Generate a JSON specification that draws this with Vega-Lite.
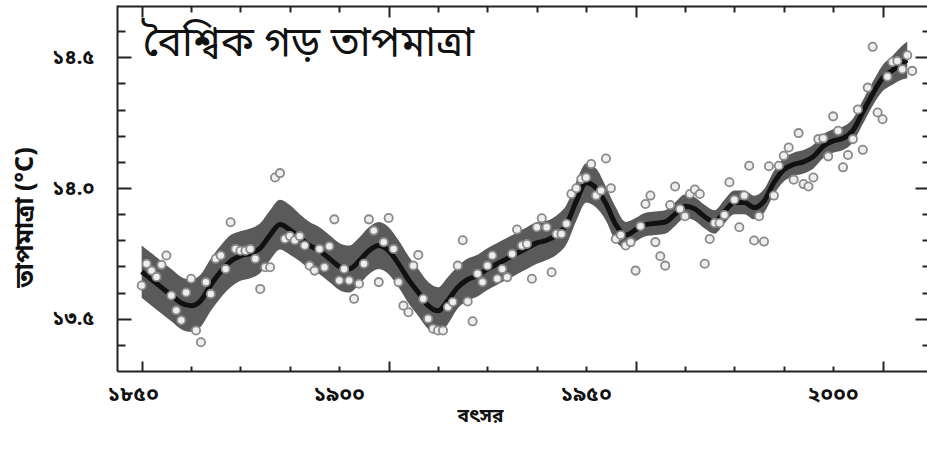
{
  "$schema": "https://vega.github.io/schema/vega-lite/v6.json",
  "width": 810,
  "height": 366,
  "autosize": "none",
  "padding": {"left": 117, "top": 5, "right": 0, "bottom": 87},
  "background": "white",
  "config": {
    "view": {"stroke": null},
    "font": "Noto Sans Bengali, Noto Sans, sans-serif",
    "axis": {"grid": false, "tickColor": "#222", "tickWidth": 2, "domainColor": "#222", "domainWidth": 2, "labelFont": "Noto Sans Bengali, Noto Sans, sans-serif", "titleFont": "Noto Sans Bengali, Noto Sans, sans-serif", "labelColor": "#111", "titleColor": "#111"}
  },
  "datasets": {
    "smooth": [
      {"year": 1850, "smooth": 13.68, "lo": 13.58, "hi": 13.78},
      {"year": 1852, "smooth": 13.65, "lo": 13.55, "hi": 13.75},
      {"year": 1854, "smooth": 13.62, "lo": 13.52, "hi": 13.72},
      {"year": 1856, "smooth": 13.59, "lo": 13.49, "hi": 13.69},
      {"year": 1858, "smooth": 13.56, "lo": 13.46, "hi": 13.66},
      {"year": 1860, "smooth": 13.55, "lo": 13.45, "hi": 13.65},
      {"year": 1862, "smooth": 13.57, "lo": 13.47, "hi": 13.67},
      {"year": 1864, "smooth": 13.63, "lo": 13.53, "hi": 13.73},
      {"year": 1866, "smooth": 13.68, "lo": 13.58, "hi": 13.78},
      {"year": 1868, "smooth": 13.72, "lo": 13.62, "hi": 13.82},
      {"year": 1870, "smooth": 13.74, "lo": 13.645, "hi": 13.835},
      {"year": 1872, "smooth": 13.75, "lo": 13.655, "hi": 13.845},
      {"year": 1874, "smooth": 13.77, "lo": 13.675, "hi": 13.865},
      {"year": 1876, "smooth": 13.82, "lo": 13.725, "hi": 13.915},
      {"year": 1878, "smooth": 13.86, "lo": 13.765, "hi": 13.955},
      {"year": 1880, "smooth": 13.84, "lo": 13.745, "hi": 13.935},
      {"year": 1882, "smooth": 13.81, "lo": 13.72, "hi": 13.90},
      {"year": 1884, "smooth": 13.78, "lo": 13.69, "hi": 13.87},
      {"year": 1886, "smooth": 13.76, "lo": 13.67, "hi": 13.85},
      {"year": 1888, "smooth": 13.73, "lo": 13.64, "hi": 13.82},
      {"year": 1890, "smooth": 13.70, "lo": 13.61, "hi": 13.79},
      {"year": 1892, "smooth": 13.69, "lo": 13.60, "hi": 13.78},
      {"year": 1894, "smooth": 13.72, "lo": 13.63, "hi": 13.81},
      {"year": 1896, "smooth": 13.76, "lo": 13.67, "hi": 13.85},
      {"year": 1898, "smooth": 13.78, "lo": 13.69, "hi": 13.87},
      {"year": 1900, "smooth": 13.76, "lo": 13.67, "hi": 13.85},
      {"year": 1902, "smooth": 13.71, "lo": 13.62, "hi": 13.80},
      {"year": 1904, "smooth": 13.65, "lo": 13.56, "hi": 13.74},
      {"year": 1906, "smooth": 13.60, "lo": 13.51, "hi": 13.69},
      {"year": 1908, "smooth": 13.55, "lo": 13.46, "hi": 13.64},
      {"year": 1910, "smooth": 13.53, "lo": 13.44, "hi": 13.62},
      {"year": 1912, "smooth": 13.57, "lo": 13.48, "hi": 13.66},
      {"year": 1914, "smooth": 13.62, "lo": 13.54, "hi": 13.70},
      {"year": 1916, "smooth": 13.65, "lo": 13.57, "hi": 13.73},
      {"year": 1918, "smooth": 13.665, "lo": 13.585, "hi": 13.745},
      {"year": 1920, "smooth": 13.69, "lo": 13.61, "hi": 13.77},
      {"year": 1922, "smooth": 13.71, "lo": 13.63, "hi": 13.79},
      {"year": 1924, "smooth": 13.73, "lo": 13.65, "hi": 13.81},
      {"year": 1926, "smooth": 13.75, "lo": 13.67, "hi": 13.83},
      {"year": 1928, "smooth": 13.77, "lo": 13.69, "hi": 13.85},
      {"year": 1930, "smooth": 13.79, "lo": 13.71, "hi": 13.87},
      {"year": 1932, "smooth": 13.80, "lo": 13.725, "hi": 13.875},
      {"year": 1934, "smooth": 13.82, "lo": 13.745, "hi": 13.895},
      {"year": 1936, "smooth": 13.86, "lo": 13.785, "hi": 13.935},
      {"year": 1938, "smooth": 13.95, "lo": 13.875, "hi": 14.025},
      {"year": 1940, "smooth": 14.02, "lo": 13.945, "hi": 14.095},
      {"year": 1942, "smooth": 14.00, "lo": 13.925, "hi": 14.075},
      {"year": 1944, "smooth": 13.94, "lo": 13.875, "hi": 14.005},
      {"year": 1946, "smooth": 13.86, "lo": 13.795, "hi": 13.925},
      {"year": 1948, "smooth": 13.82, "lo": 13.77, "hi": 13.87},
      {"year": 1950, "smooth": 13.84, "lo": 13.795, "hi": 13.885},
      {"year": 1952, "smooth": 13.86, "lo": 13.815, "hi": 13.905},
      {"year": 1954, "smooth": 13.865, "lo": 13.82, "hi": 13.91},
      {"year": 1956, "smooth": 13.87, "lo": 13.825, "hi": 13.915},
      {"year": 1958, "smooth": 13.90, "lo": 13.855, "hi": 13.945},
      {"year": 1960, "smooth": 13.93, "lo": 13.885, "hi": 13.975},
      {"year": 1962, "smooth": 13.92, "lo": 13.875, "hi": 13.965},
      {"year": 1964, "smooth": 13.89, "lo": 13.845, "hi": 13.935},
      {"year": 1966, "smooth": 13.87, "lo": 13.825, "hi": 13.915},
      {"year": 1968, "smooth": 13.91, "lo": 13.865, "hi": 13.955},
      {"year": 1970, "smooth": 13.945, "lo": 13.90, "hi": 13.99},
      {"year": 1972, "smooth": 13.945, "lo": 13.90, "hi": 13.99},
      {"year": 1974, "smooth": 13.925, "lo": 13.88, "hi": 13.97},
      {"year": 1976, "smooth": 13.95, "lo": 13.905, "hi": 13.995},
      {"year": 1978, "smooth": 14.02, "lo": 13.975, "hi": 14.065},
      {"year": 1980, "smooth": 14.07, "lo": 14.025, "hi": 14.115},
      {"year": 1982, "smooth": 14.09, "lo": 14.045, "hi": 14.135},
      {"year": 1984, "smooth": 14.10, "lo": 14.055, "hi": 14.145},
      {"year": 1986, "smooth": 14.12, "lo": 14.075, "hi": 14.165},
      {"year": 1988, "smooth": 14.16, "lo": 14.115, "hi": 14.205},
      {"year": 1990, "smooth": 14.18, "lo": 14.135, "hi": 14.225},
      {"year": 1992, "smooth": 14.19, "lo": 14.145, "hi": 14.235},
      {"year": 1994, "smooth": 14.22, "lo": 14.175, "hi": 14.265},
      {"year": 1996, "smooth": 14.29, "lo": 14.245, "hi": 14.335},
      {"year": 1998, "smooth": 14.36, "lo": 14.315, "hi": 14.405},
      {"year": 2000, "smooth": 14.42, "lo": 14.37, "hi": 14.47},
      {"year": 2002, "smooth": 14.45, "lo": 14.395, "hi": 14.505},
      {"year": 2004, "smooth": 14.48, "lo": 14.415, "hi": 14.545},
      {"year": 2005, "smooth": 14.49, "lo": 14.42, "hi": 14.56}
    ],
    "annual": [
      {"year": 1850, "temp": 13.627}, {"year": 1851, "temp": 13.71}, {"year": 1852, "temp": 13.684}, {"year": 1853, "temp": 13.66},
      {"year": 1854, "temp": 13.706}, {"year": 1855, "temp": 13.742}, {"year": 1856, "temp": 13.589}, {"year": 1857, "temp": 13.532},
      {"year": 1858, "temp": 13.494}, {"year": 1859, "temp": 13.60}, {"year": 1860, "temp": 13.653}, {"year": 1861, "temp": 13.455},
      {"year": 1862, "temp": 13.41}, {"year": 1863, "temp": 13.64}, {"year": 1864, "temp": 13.595}, {"year": 1865, "temp": 13.729},
      {"year": 1866, "temp": 13.742}, {"year": 1867, "temp": 13.69}, {"year": 1868, "temp": 13.869}, {"year": 1869, "temp": 13.767},
      {"year": 1870, "temp": 13.76}, {"year": 1871, "temp": 13.76}, {"year": 1872, "temp": 13.767}, {"year": 1873, "temp": 13.729},
      {"year": 1874, "temp": 13.614}, {"year": 1875, "temp": 13.697}, {"year": 1876, "temp": 13.697}, {"year": 1877, "temp": 14.04},
      {"year": 1878, "temp": 14.057}, {"year": 1879, "temp": 13.805}, {"year": 1880, "temp": 13.816}, {"year": 1881, "temp": 13.80},
      {"year": 1882, "temp": 13.816}, {"year": 1883, "temp": 13.78}, {"year": 1884, "temp": 13.703}, {"year": 1885, "temp": 13.684},
      {"year": 1886, "temp": 13.767}, {"year": 1887, "temp": 13.697}, {"year": 1888, "temp": 13.777}, {"year": 1889, "temp": 13.88},
      {"year": 1890, "temp": 13.646}, {"year": 1891, "temp": 13.69}, {"year": 1892, "temp": 13.646}, {"year": 1893, "temp": 13.576},
      {"year": 1894, "temp": 13.634}, {"year": 1895, "temp": 13.71}, {"year": 1896, "temp": 13.88}, {"year": 1897, "temp": 13.837},
      {"year": 1898, "temp": 13.64}, {"year": 1899, "temp": 13.793}, {"year": 1900, "temp": 13.885}, {"year": 1901, "temp": 13.767},
      {"year": 1902, "temp": 13.64}, {"year": 1903, "temp": 13.55}, {"year": 1904, "temp": 13.525}, {"year": 1905, "temp": 13.703},
      {"year": 1906, "temp": 13.744}, {"year": 1907, "temp": 13.576}, {"year": 1908, "temp": 13.50}, {"year": 1909, "temp": 13.462},
      {"year": 1910, "temp": 13.455}, {"year": 1911, "temp": 13.455}, {"year": 1912, "temp": 13.545}, {"year": 1913, "temp": 13.564},
      {"year": 1914, "temp": 13.703}, {"year": 1915, "temp": 13.80}, {"year": 1916, "temp": 13.566}, {"year": 1917, "temp": 13.49},
      {"year": 1918, "temp": 13.672}, {"year": 1919, "temp": 13.64}, {"year": 1920, "temp": 13.703}, {"year": 1921, "temp": 13.742},
      {"year": 1922, "temp": 13.653}, {"year": 1923, "temp": 13.69}, {"year": 1924, "temp": 13.659}, {"year": 1925, "temp": 13.748},
      {"year": 1926, "temp": 13.841}, {"year": 1927, "temp": 13.78}, {"year": 1928, "temp": 13.786}, {"year": 1929, "temp": 13.653},
      {"year": 1930, "temp": 13.85}, {"year": 1931, "temp": 13.884}, {"year": 1932, "temp": 13.85}, {"year": 1933, "temp": 13.678},
      {"year": 1934, "temp": 13.824}, {"year": 1935, "temp": 13.824}, {"year": 1936, "temp": 13.863}, {"year": 1937, "temp": 13.977},
      {"year": 1938, "temp": 13.999}, {"year": 1939, "temp": 14.034}, {"year": 1940, "temp": 14.04}, {"year": 1941, "temp": 14.092},
      {"year": 1942, "temp": 13.971}, {"year": 1943, "temp": 13.99}, {"year": 1944, "temp": 14.113}, {"year": 1945, "temp": 13.999},
      {"year": 1946, "temp": 13.805}, {"year": 1947, "temp": 13.82}, {"year": 1948, "temp": 13.78}, {"year": 1949, "temp": 13.793},
      {"year": 1950, "temp": 13.684}, {"year": 1951, "temp": 13.854}, {"year": 1952, "temp": 13.939}, {"year": 1953, "temp": 13.971},
      {"year": 1954, "temp": 13.793}, {"year": 1955, "temp": 13.739}, {"year": 1956, "temp": 13.703}, {"year": 1957, "temp": 13.935},
      {"year": 1958, "temp": 14.006}, {"year": 1959, "temp": 13.92}, {"year": 1960, "temp": 13.892}, {"year": 1961, "temp": 13.977},
      {"year": 1962, "temp": 13.994}, {"year": 1963, "temp": 13.977}, {"year": 1964, "temp": 13.71}, {"year": 1965, "temp": 13.805},
      {"year": 1966, "temp": 13.866}, {"year": 1967, "temp": 13.866}, {"year": 1968, "temp": 13.897}, {"year": 1969, "temp": 14.022},
      {"year": 1970, "temp": 13.955}, {"year": 1971, "temp": 13.85}, {"year": 1972, "temp": 13.971}, {"year": 1973, "temp": 14.085},
      {"year": 1974, "temp": 13.799}, {"year": 1975, "temp": 13.892}, {"year": 1976, "temp": 13.795}, {"year": 1977, "temp": 14.083},
      {"year": 1978, "temp": 13.971}, {"year": 1979, "temp": 14.085}, {"year": 1980, "temp": 14.123}, {"year": 1981, "temp": 14.155},
      {"year": 1982, "temp": 14.032}, {"year": 1983, "temp": 14.21}, {"year": 1984, "temp": 14.015}, {"year": 1985, "temp": 14.006},
      {"year": 1986, "temp": 14.04}, {"year": 1987, "temp": 14.187}, {"year": 1988, "temp": 14.19}, {"year": 1989, "temp": 14.121},
      {"year": 1990, "temp": 14.274}, {"year": 1991, "temp": 14.219}, {"year": 1992, "temp": 14.079}, {"year": 1993, "temp": 14.126},
      {"year": 1994, "temp": 14.187}, {"year": 1995, "temp": 14.30}, {"year": 1996, "temp": 14.146}, {"year": 1997, "temp": 14.384},
      {"year": 1998, "temp": 14.54}, {"year": 1999, "temp": 14.289}, {"year": 2000, "temp": 14.263}, {"year": 2001, "temp": 14.426},
      {"year": 2002, "temp": 14.482}, {"year": 2003, "temp": 14.486}, {"year": 2004, "temp": 14.454}, {"year": 2005, "temp": 14.508},
      {"year": 2006, "temp": 14.448}
    ]
  },
  "resolve": {"axis": {"x": "independent", "y": "independent"}},
  "layer": [
    {
      "data": {"name": "smooth"},
      "mark": {"type": "area", "color": "#5a5a5a", "interpolate": "monotone"},
      "encoding": {
        "x": {"field": "year", "type": "quantitative", "scale": {"domain": [1845, 2009], "nice": false, "zero": false},
          "axis": {"orient": "bottom", "values": [1850, 1900, 1950, 2000], "tickSize": -10, "domain": true, "title": "বৎসর",
            "labelExpr": "datum.value == 1850 ? '১৮৫০' : datum.value == 1900 ? '১৯০০' : datum.value == 1950 ? '১৯৫০' : '২০০০'",
            "labelFontSize": 21, "labelFontWeight": "bold", "labelPadding": 22, "labelBaseline": "top",
            "labelOffset": {"condition": {"test": "datum.value == 1850", "value": -9}, "value": -50},
            "labelFlush": false, "labelOverlap": false,
            "titleFontSize": 19, "titleFontWeight": "bold", "titleX": 363, "titleY": 44, "titleBaseline": "middle"}},
        "y": {"field": "lo", "type": "quantitative", "scale": {"domain": [13.3, 14.7], "nice": false, "zero": false},
          "axis": {"orient": "left", "values": [13.5, 14, 14.5], "tickSize": -14, "domain": true, "title": "তাপমাত্রা (°C)",
            "labelExpr": "datum.value == 14.5 ? '১৪.৫' : datum.value == 14 ? '১৪.০' : '১৩.৫'",
            "labelFontSize": 20, "labelFontWeight": "bold", "labelPadding": 37, "labelFlush": false, "labelOverlap": false,
            "titleFontSize": 25, "titleFontWeight": "bold", "titleX": -93, "titleY": 212, "titleBaseline": "middle"}},
        "y2": {"field": "hi"}
      }
    },
    {
      "data": {"name": "smooth"},
      "mark": {"type": "line", "color": "#111", "strokeWidth": 5, "interpolate": "monotone"},
      "encoding": {
        "x": {"field": "year", "type": "quantitative", "scale": {"domain": [1845, 2009], "nice": false, "zero": false},
          "axis": {"orient": "top", "values": [1850, 1900, 1950, 2000], "tickSize": -11, "domain": true, "labels": false, "title": null, "offset": -1}},
        "y": {"field": "smooth", "type": "quantitative", "scale": {"domain": [13.3, 14.7], "nice": false, "zero": false},
          "axis": {"orient": "right", "values": [13.5, 14, 14.5], "tickSize": -12, "domain": false, "labels": false, "title": null}}
      }
    },
    {
      "data": {"name": "annual"},
      "mark": {"type": "point", "shape": "circle", "filled": false, "fill": "#eeeeee", "fillOpacity": 1, "stroke": "#8a8a8a", "strokeWidth": 1.8, "size": 68, "opacity": 1},
      "encoding": {
        "x": {"field": "year", "type": "quantitative", "scale": {"domain": [1845, 2009], "nice": false, "zero": false},
          "axis": {"orient": "bottom", "values": [1860, 1870, 1880, 1890, 1910, 1920, 1930, 1940, 1960, 1970, 1980, 1990], "tickSize": -5, "domain": false, "labels": false, "title": null}},
        "y": {"field": "temp", "type": "quantitative", "scale": {"domain": [13.3, 14.7], "nice": false, "zero": false},
          "axis": {"orient": "left", "values": [13.4, 13.6, 13.7, 13.8, 13.9, 14.1, 14.2, 14.3, 14.4, 14.6], "tickSize": -8, "domain": false, "labels": false, "title": null}}
      }
    },
    {
      "data": {"values": [{"label": "বৈশ্বিক গড় তাপমাত্রা"}]},
      "mark": {"type": "text", "align": "left", "baseline": "middle", "fontSize": 41, "color": "#111", "font": "Noto Sans Bengali, Noto Sans, sans-serif"},
      "encoding": {
        "text": {"field": "label"},
        "x": {"datum": 1850.2, "type": "quantitative", "scale": {"domain": [1845, 2009], "nice": false, "zero": false},
          "axis": {"orient": "top", "values": [1860, 1870, 1880, 1890, 1910, 1920, 1930, 1940, 1960, 1970, 1980, 1990], "tickSize": -6, "domain": false, "labels": false, "title": null, "offset": -1}},
        "y": {"datum": 14.55, "type": "quantitative", "scale": {"domain": [13.3, 14.7], "nice": false, "zero": false},
          "axis": {"orient": "right", "values": [13.4, 13.6, 13.7, 13.8, 13.9, 14.1, 14.2, 14.3, 14.4, 14.6], "tickSize": -5, "domain": false, "labels": false, "title": null}}
      }
    }
  ]
}
